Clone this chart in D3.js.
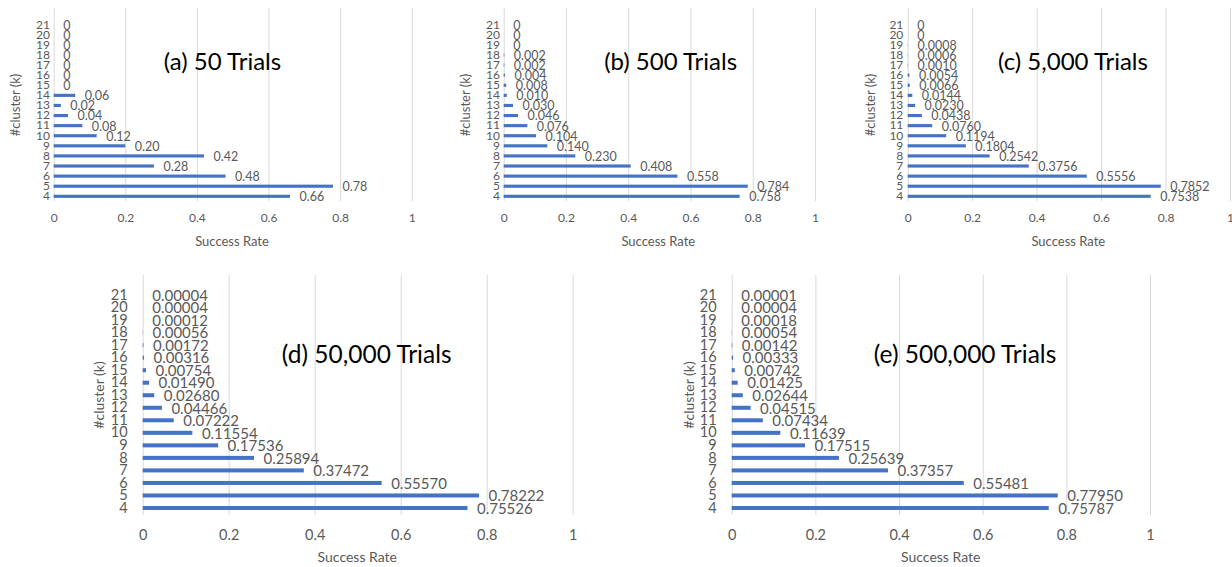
<!DOCTYPE html>
<html>
<head>
<meta charset="utf-8">
<script src="https://cdn.jsdelivr.net/npm/d3@7"></script>
<style>
  html, body { margin: 0; padding: 0; background: #fff; }
  svg { display: block; font-family: Lato, "Open Sans", sans-serif; }
</style>
</head>
<body>
<svg id="chart" width="1232" height="567"></svg>
<script>
// ---------- data ----------
const categories = ["4","5","6","7","8","9","10","11","12","13","14","15","16","17","18","19","20","21"];
const xTickValues = [0, 0.2, 0.4, 0.6, 0.8, 1];

const values50     = [0.66, 0.78, 0.48, 0.28, 0.42, 0.20, 0.12, 0.08, 0.04, 0.02, 0.06, 0, 0, 0, 0, 0, 0, 0];
const values500    = [0.758, 0.784, 0.558, 0.408, 0.230, 0.140, 0.104, 0.076, 0.046, 0.030, 0.010, 0.008, 0.004, 0.002, 0.002, 0, 0, 0];
const values5000   = [0.7538, 0.7852, 0.5556, 0.3756, 0.2542, 0.1804, 0.1194, 0.0760, 0.0438, 0.0230, 0.0144, 0.0066, 0.0054, 0.0010, 0.0006, 0.0008, 0, 0];
const values50000  = [0.75526, 0.78222, 0.55570, 0.37472, 0.25894, 0.17536, 0.11554, 0.07222, 0.04466, 0.02680, 0.01490, 0.00754, 0.00316, 0.00172, 0.00056, 0.00012, 0.00004, 0.00004];
const values500000 = [0.75787, 0.77950, 0.55481, 0.37357, 0.25639, 0.17515, 0.11639, 0.07434, 0.04515, 0.02644, 0.01425, 0.00742, 0.00333, 0.00142, 0.00054, 0.00018, 0.00004, 0.00001];

const panelTitles = ["(a) 50 Trials", "(b) 500 Trials", "(c) 5,000 Trials", "(d) 50,000 Trials", "(e) 500,000 Trials"];
const labelDecimals = [2, 3, 4, 5, 5];
const xAxisTitle = "Success Rate";
const yAxisTitle = "#cluster (k)";

// ---------- layout ----------
const topRow = { gridTop: 8, gridBottom: 201, yFirst: 196.3, yLast: 24.7, tickY: 218, axisTitleY: 241, yTitleY: 105, titleY: 62,
                 lblFont: 12.5, catFont: 12, tickFont: 12, titleFont: 24, axisFont: 13, barRatio: 0.31 };
const botRow = { gridTop: 275, gridBottom: 515, yFirst: 508, yLast: 295, tickY: 534.5, axisTitleY: 557.5, yTitleY: 395, titleY: 354,
                 lblFont: 15, catFont: 14.5, tickFont: 14.5, titleFont: 24.5, axisFont: 14, barRatio: 0.32 };

const panels = [
  { values: values50,     row: topRow, x0: 53.7,  x1: 411.7, catRight: 50,    yTitleX: 15,  titleX: 222.5, axisTitleX: 232 },
  { values: values500,    row: topRow, x0: 503.7, x1: 815,   catRight: 500,   yTitleX: 465, titleX: 670.6, axisTitleX: 658.3 },
  { values: values5000,   row: topRow, x0: 907.7, x1: 1230,  catRight: 903.3, yTitleX: 870, titleX: 1073,  axisTitleX: 1068.3 },
  { values: values50000,  row: botRow, x0: 142.7, x1: 572.7, catRight: 127.7, yTitleX: 99,  titleX: 366.7, axisTitleX: 357.3 },
  { values: values500000, row: botRow, x0: 731.7, x1: 1150,  catRight: 716.7, yTitleX: 689, titleX: 965,   axisTitleX: 940.7 }
];

const BAR = "#4472C4", GRID = "#d9d9d9", TXT = "#595959";
const svg = d3.select("#chart");

panels.forEach((p, i) => {
  const r = p.row;
  const g = svg.append("g");
  const x = d3.scaleLinear().domain([0, 1]).range([p.x0, p.x1]);
  const step = (r.yFirst - r.yLast) / (categories.length - 1);
  const y = d3.scaleBand().domain(categories)
    .range([r.yFirst + step / 2, r.yLast - step / 2]).padding(0);
  const barH = y.bandwidth() * r.barRatio;

  // x axis with gridlines
  const xa = g.append("g").attr("transform", `translate(0,${r.gridBottom})`)
    .call(d3.axisBottom(x).tickValues(xTickValues).tickFormat(d3.format(""))
      .tickSizeInner(-(r.gridBottom - r.gridTop)).tickSizeOuter(0)
      .tickPadding(r.tickY - r.gridBottom - r.tickFont * 0.36));
  xa.select(".domain").remove();
  xa.selectAll(".tick line").attr("stroke", GRID).attr("stroke-width", 1);
  xa.selectAll(".tick text").attr("fill", TXT).attr("font-size", r.tickFont).attr("font-family", "Lato");

  // y axis (categories)
  const ya = g.append("g").attr("transform", `translate(${p.x0},0)`)
    .call(d3.axisLeft(y).tickSize(0).tickPadding(p.x0 - p.catRight));
  ya.select(".domain").remove();
  ya.selectAll(".tick text").attr("fill", TXT).attr("font-size", r.catFont).attr("font-family", "Lato");

  const data = categories.map((c, k) => ({ c, v: p.values[k] }));

  // bars
  g.selectAll("rect.bar").data(data).enter().append("rect")
    .attr("class", "bar")
    .attr("x", x(0))
    .attr("y", d => y(d.c) + y.bandwidth() / 2 - barH / 2)
    .attr("width", d => x(d.v) - x(0))
    .attr("height", barH)
    .attr("fill", BAR);

  // data labels
  const fmt = d3.format("." + labelDecimals[i] + "f");
  g.selectAll("text.lbl").data(data).enter().append("text")
    .attr("class", "lbl")
    .attr("x", d => x(d.v) + 9.5)
    .attr("y", d => y(d.c) + y.bandwidth() / 2 + 0.5)
    .attr("dy", "0.35em")
    .attr("font-size", r.lblFont)
    .attr("fill", TXT)
    .text(d => d.v === 0 ? "0" : fmt(d.v));

  // axis titles
  g.append("text").attr("x", p.axisTitleX).attr("y", r.axisTitleY).attr("dy", "0.35em")
    .attr("text-anchor", "middle").attr("font-size", r.axisFont).attr("fill", TXT).text(xAxisTitle);
  g.append("text").attr("transform", `translate(${p.yTitleX},${r.yTitleY}) rotate(-90)`)
    .attr("dy", "0.35em").attr("text-anchor", "middle").attr("font-size", r.axisFont)
    .attr("fill", TXT).text(yAxisTitle);

  // panel title
  g.append("text").attr("x", p.titleX).attr("y", r.titleY).attr("dy", "0.35em")
    .attr("text-anchor", "middle").attr("font-size", r.titleFont).attr("fill", "#000")
    .text(panelTitles[i]);
});
</script>
</body>
</html>
